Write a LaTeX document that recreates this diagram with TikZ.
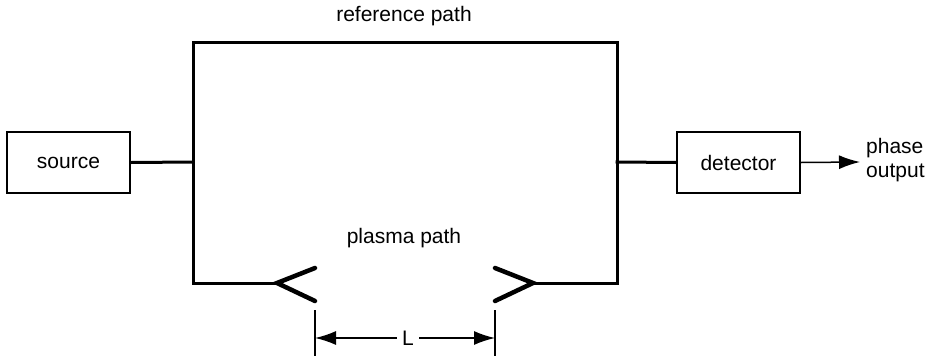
\documentclass[tikz,border=0pt]{standalone}
\usepackage{fontspec}
\setmainfont{Liberation Sans}
\usetikzlibrary{arrows.meta}
\begin{document}
\begin{tikzpicture}[x=1pt,y=-1pt,
  lbl/.style={font=\fontsize{21}{24}\selectfont, inner sep=0pt},
  blockbox/.style={draw, line width=2pt, minimum width=123pt, minimum height=61pt, inner sep=0pt, font=\fontsize{21}{24}\selectfont},
  pathline/.style={line width=3pt, line cap=rect},
  chev/.style={line width=4.5pt, line cap=round},
  thinline/.style={line width=1.5pt},
  arr/.style={-{Latex[length=21pt,width=14pt]}, line width=1.5pt}]
\useasboundingbox (0,0) rectangle (934,356);
% boxes
\node[blockbox] (src) at (68.5,162.5) {source};
\node[blockbox] (det) at (738.5,162.5) {detector};
% frame corners
\coordinate (jl) at (193,162);
\coordinate (jr) at (617,162);
\coordinate (tl) at (193,42);
\coordinate (tr) at (617,42);
\coordinate (bl) at (193,283);
\coordinate (br) at (617,283);
\coordinate (vl) at (277,283);
\coordinate (vr) at (533,283);
\coordinate (lt) at (315,268);
\coordinate (lb) at (315,301);
\coordinate (rt) at (495,268);
\coordinate (rb) at (495,301);
\draw[pathline] (src.east) -- (jl);
\draw[pathline] (det.west) -- (jr);
\draw[pathline] (vl) -- (bl) -- (tl) -- (tr) -- (br) -- (vr);
\draw[chev] (lt) -- (vl) -- (lb);
\draw[chev] (rt) -- (vr) -- (rb);
% labels
\node[lbl] (ref) at (404,16) {reference path};
\node[lbl] (pla) at (404,238) {plasma path};
% output
\node[lbl, anchor=west, align=left] (out) at (866,160) {phase\\output};
\coordinate (outtip) at (860,162);
\draw[arr] (det.east) -- (outtip);
% dimension
\coordinate (d1t) at (315,310);
\coordinate (d1b) at (315,356);
\coordinate (d2t) at (495,310);
\coordinate (d2b) at (495,356);
\draw[thinline] (d1t) -- (d1b);
\draw[thinline] (d2t) -- (d2b);
\node[lbl, fill=white, inner xsep=5pt] (L) at (408,338) {L};
\coordinate (a1) at (315,338);
\coordinate (a2) at (495,338);
\draw[arr] (L.west) -- (a1);
\draw[arr] (L.east) -- (a2);
\end{tikzpicture}
\end{document}
